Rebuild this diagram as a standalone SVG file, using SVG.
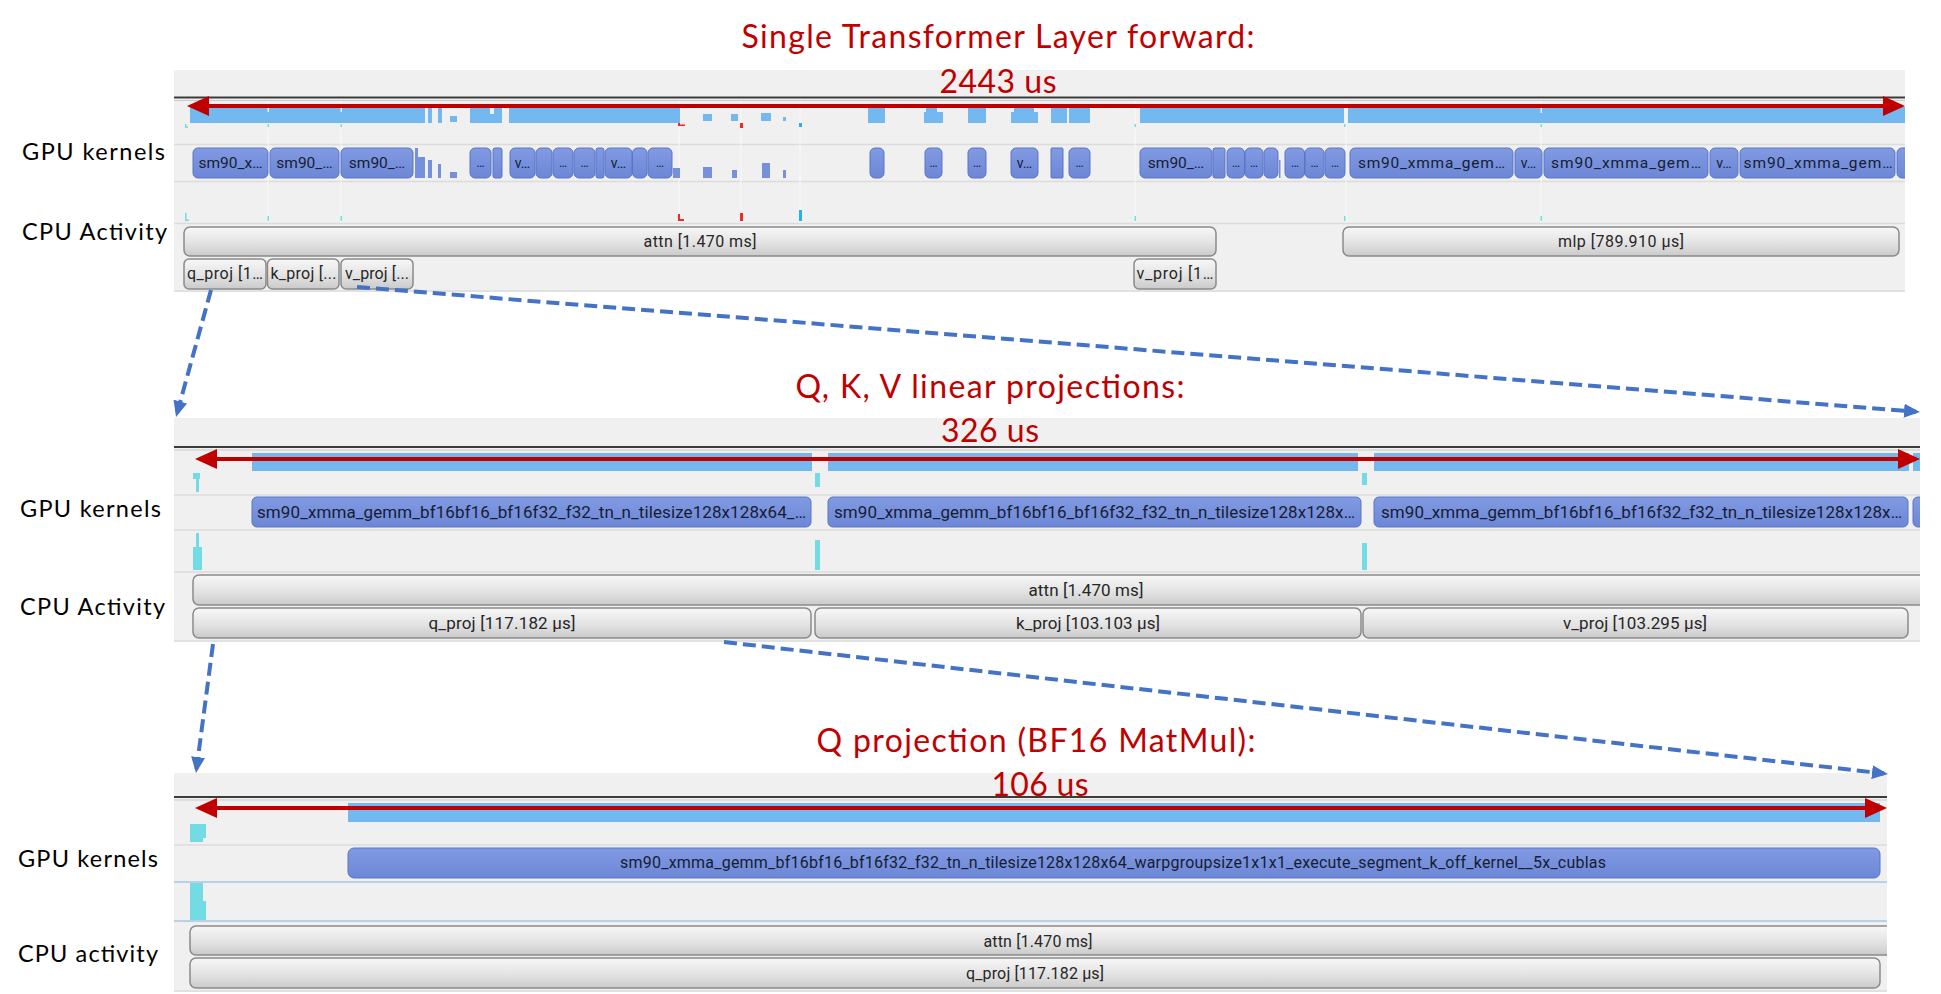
<svg xmlns="http://www.w3.org/2000/svg" width="1941" height="994" viewBox="0 0 1941 994">
<defs>
<linearGradient id="gg" x1="0" y1="0" x2="0" y2="1">
<stop offset="0" stop-color="#f7f7f7"/><stop offset="0.55" stop-color="#e3e3e3"/><stop offset="1" stop-color="#cacaca"/>
</linearGradient>
<linearGradient id="kg" x1="0" y1="0" x2="0" y2="1">
<stop offset="0" stop-color="#829ae3"/><stop offset="1" stop-color="#6c87d6"/>
</linearGradient>
<marker id="rh" viewBox="0 0 22 20" refX="18" refY="10" markerWidth="22" markerHeight="20" markerUnits="userSpaceOnUse" orient="auto-start-reverse"><path d="M0 0 L22 10 L0 20 Z" fill="#c00000"/></marker>
<marker id="bh" viewBox="0 0 16 14" refX="12" refY="7" markerWidth="16" markerHeight="14" markerUnits="userSpaceOnUse" orient="auto"><path d="M0 0 L16 7 L0 14 Z" fill="#4472c4"/></marker>
<clipPath id="c1"><rect x="174" y="70" width="1731" height="222"/></clipPath>
<clipPath id="c2"><rect x="174" y="418" width="1746" height="224"/></clipPath>
<clipPath id="c3"><rect x="174" y="773" width="1713" height="219"/></clipPath>
</defs>
<style>
.bg{fill:#f0f0f0}
.sep{stroke:#dcdcdc;stroke-width:1.5}
.sepb{stroke:#a6c7e2;stroke-width:1.5}
.dk{stroke:#3c3c3c;stroke-width:2}
.lt{stroke:#c9c9c9;stroke-width:1}
.fl{stroke:#f9f9f9;stroke-width:1}
.bl{fill:#73b9ef}
.cy{fill:#73dbe4}
.rd{fill:#ee2a2a}
.sb{fill:#1fb3f0}
.wt{fill:#f0f0f0}
.k{fill:url(#kg);stroke:#5b75c6;stroke-width:1}
.kb{fill:#7690dc}
.g{fill:url(#gg);stroke:#8a8a8a;stroke-width:1.5}
.kt{font-family:Roboto,"Liberation Sans",sans-serif;font-size:15.5px;fill:#161d33;text-anchor:middle}
.ks{font-family:Roboto,"Liberation Sans",sans-serif;font-size:12px;fill:#161d33;text-anchor:middle}
.gt{font-family:Roboto,"Liberation Sans",sans-serif;font-size:16px;fill:#262626;text-anchor:middle}
.lab{font-family:Lato,"Open Sans",sans-serif;font-size:23.5px;fill:#000}
.tt{font-family:Lato,"Open Sans",sans-serif;font-size:32px;fill:#c00000;text-anchor:middle}
.span{stroke:#c00000;stroke-width:4;fill:none;marker-start:url(#rh);marker-end:url(#rh)}
.dash{stroke:#4472c4;stroke-width:4;stroke-dasharray:13 6;fill:none;marker-end:url(#bh)}
</style>
<rect width="1941" height="994" fill="#ffffff"/>

<!-- Panel 1 -->
<g id="panel1" clip-path="url(#c1)">
<rect class="bg" x="174" y="70" width="1731" height="222"/>
<line class="dk" x1="174" y1="97.5" x2="1905" y2="97.5"/>
<line class="lt" x1="174" y1="100.5" x2="1905" y2="100.5"/>
<line class="sep" x1="174" y1="144.5" x2="1905" y2="144.5"/>
<line class="sep" x1="174" y1="181.5" x2="1905" y2="181.5"/>
<line class="sep" x1="174" y1="223.5" x2="1905" y2="223.5"/>
<line class="sep" x1="174" y1="291" x2="1905" y2="291"/>
<g class="fl">
<line x1="268" y1="101" x2="268" y2="223"/><line x1="341" y1="101" x2="341" y2="223"/>
<line x1="679" y1="101" x2="679" y2="223"/><line x1="741" y1="101" x2="741" y2="223"/>
<line x1="800" y1="101" x2="800" y2="223"/><line x1="1135" y1="101" x2="1135" y2="223"/>
<line x1="1346" y1="101" x2="1346" y2="223"/><line x1="1541" y1="101" x2="1541" y2="223"/>
</g>
<!-- GPU activity row -->
<g class="bl">
<rect x="190" y="107" width="235" height="16"/>
<rect x="428" y="107" width="4" height="16"/>
<rect x="438" y="107" width="4" height="16"/>
<rect x="450" y="116" width="7" height="6"/>
<rect x="470" y="107" width="20" height="16"/>
<rect x="490" y="114" width="4" height="9"/>
<rect x="494" y="107" width="8" height="16"/>
<rect x="509" y="107" width="171" height="16"/>
<rect x="703" y="114" width="9" height="7"/>
<rect x="731" y="114" width="7" height="7"/>
<rect x="761" y="113" width="10" height="8"/>
<rect x="783" y="117" width="3" height="4"/>
<rect x="868" y="107" width="17" height="16"/>
<rect x="926" y="107" width="11" height="6"/>
<rect x="924" y="112" width="19" height="11"/>
<rect x="968" y="107" width="18" height="16"/>
<rect x="1014" y="107" width="20" height="6"/>
<rect x="1011" y="112" width="27" height="11"/>
<rect x="1051" y="107" width="16" height="16"/>
<rect x="1069" y="107" width="21" height="16"/>
<rect x="1140" y="107" width="204" height="16"/>
<rect x="1348" y="107" width="557" height="16"/>
</g>
<g class="wt">
<rect x="267.5" y="107" width="1.5" height="5"/><rect x="340.5" y="107" width="1.5" height="5"/><rect x="1540.5" y="107" width="1.5" height="6"/>
</g>
<g class="cy">
<rect x="185" y="124" width="1.5" height="4"/><rect x="185" y="126.5" width="3" height="1.5"/>
<rect x="267.5" y="124" width="1.5" height="3"/><rect x="340.5" y="124" width="1.5" height="3"/>
<rect x="1134.5" y="124" width="1.5" height="3"/><rect x="1344" y="124" width="1.5" height="3"/><rect x="1540.5" y="124" width="1.5" height="3"/>
</g>
<rect class="rd" x="678" y="123" width="2" height="3"/><rect class="rd" x="678" y="124.5" width="7" height="1.5"/>
<rect class="rd" x="740" y="123" width="3" height="5"/>
<rect class="sb" x="799" y="123" width="3" height="4"/>
<!-- kernel row -->
<g class="k">
<rect x="193" y="148" width="75" height="30" rx="5"/>
<rect x="270" y="148" width="69" height="30" rx="5"/>
<rect x="341" y="148" width="72" height="30" rx="5"/>
<rect x="470" y="148" width="21" height="30" rx="5"/>
<rect x="493" y="148" width="9" height="30" rx="2"/>
<rect x="510" y="148" width="25" height="30" rx="5"/>
<rect x="536" y="148" width="16" height="30" rx="5"/>
<rect x="553" y="148" width="20" height="30" rx="5"/>
<rect x="574" y="148" width="21" height="30" rx="5"/>
<rect x="596" y="148" width="8" height="30" rx="2"/>
<rect x="605" y="148" width="27" height="30" rx="5"/>
<rect x="632.5" y="148" width="14.5" height="30" rx="5"/>
<rect x="648" y="148" width="24" height="30" rx="5"/>
<rect x="870" y="148" width="14" height="30" rx="5"/>
<rect x="925" y="148" width="17" height="30" rx="5"/>
<rect x="968" y="148" width="18" height="30" rx="5"/>
<rect x="1011" y="148" width="27" height="30" rx="5"/>
<rect x="1051" y="148" width="12" height="30" rx="1"/>
<rect x="1069" y="148" width="21" height="30" rx="5"/>
<rect x="1140" y="148" width="72" height="30" rx="5"/>
<rect x="1213" y="148" width="12" height="30" rx="2"/>
<rect x="1227" y="148" width="17.5" height="30" rx="5"/>
<rect x="1245" y="148" width="18" height="30" rx="5"/>
<rect x="1264" y="148" width="14" height="30" rx="5"/>
<rect x="1285" y="148" width="19.5" height="30" rx="5"/>
<rect x="1305" y="148" width="19" height="30" rx="5"/>
<rect x="1325" y="148" width="20" height="30" rx="5"/>
<rect x="1350" y="148" width="163" height="30" rx="5"/>
<rect x="1515" y="148" width="27" height="30" rx="5"/>
<rect x="1544" y="148" width="164" height="30" rx="5"/>
<rect x="1710" y="148" width="28" height="30" rx="5"/>
<rect x="1740" y="148" width="155" height="30" rx="5"/>
<rect x="1897" y="148" width="15" height="30" rx="5"/>
</g>
<g class="kb">
<rect x="415" y="148" width="3" height="30"/>
<rect x="418" y="157" width="7" height="21"/>
<rect x="428" y="160" width="4" height="18"/>
<rect x="438" y="164" width="3" height="14"/>
<rect x="450" y="172" width="7" height="6"/>
<rect x="673" y="168" width="7" height="10"/>
<rect x="703" y="167" width="9" height="11"/>
<rect x="732" y="170" width="5" height="8"/>
<rect x="762" y="163" width="8" height="15"/>
<rect x="783" y="170" width="3" height="8"/>
<rect x="1279" y="160" width="1.5" height="18"/>
</g>
<g class="kt">
<text x="230.5" y="168">sm90_x…</text>
<text x="304.5" y="168">sm90_…</text>
<text x="377" y="168">sm90_…</text>
<text x="1176" y="168">sm90_…</text>
<text x="1431.5" y="168" textLength="147">sm90_xmma_gem…</text>
<text x="1626" y="168" textLength="150">sm90_xmma_gem…</text>
<text x="1818" y="168" textLength="149">sm90_xmma_gem…</text>
<text x="522.5" y="168" font-size="14">v…</text>
<text x="618.5" y="168" font-size="14">v…</text>
<text x="1024.5" y="168" font-size="14">v…</text>
<text x="1528.5" y="168" font-size="14">v…</text>
<text x="1724" y="168" font-size="14">v…</text>
</g>
<g class="ks">
<text x="480.5" y="167">…</text><text x="563" y="167">…</text><text x="584.5" y="167">…</text>
<text x="660" y="167">…</text><text x="933.5" y="167">…</text><text x="977" y="167">…</text>
<text x="1079.5" y="167">…</text><text x="1236" y="167">…</text><text x="1254" y="167">…</text>
<text x="1295" y="167">…</text><text x="1314.5" y="167">…</text><text x="1335" y="167">…</text>
</g>
<!-- CPU ticks -->
<g class="cy">
<rect x="185" y="213" width="1.5" height="8"/><rect x="185" y="219.5" width="4" height="1.5"/>
<rect x="267.5" y="216" width="1.5" height="5"/><rect x="340.5" y="216" width="1.5" height="5"/>
<rect x="1134.5" y="216" width="1.5" height="5"/><rect x="1344" y="216" width="1.5" height="5"/><rect x="1540.5" y="216" width="1.5" height="5"/>
</g>
<rect class="rd" x="678" y="214" width="2" height="7"/><rect class="rd" x="678" y="219" width="6" height="2"/>
<rect class="rd" x="740" y="213" width="3" height="8"/>
<rect class="sb" x="799" y="210" width="3" height="11"/>
<!-- CPU bars -->
<rect class="g" x="184" y="227" width="1032" height="29" rx="6"/>
<rect class="g" x="1343" y="227" width="556" height="29" rx="6"/>
<rect class="g" x="184" y="259" width="82" height="30" rx="5"/>
<rect class="g" x="267.5" y="259" width="71.5" height="30" rx="5"/>
<rect class="g" x="341" y="259" width="72" height="30" rx="5"/>
<rect class="g" x="1134" y="259" width="82" height="30" rx="5"/>
<g class="gt">
<text x="700" y="247" textLength="113">attn [1.470 ms]</text>
<text x="1621" y="247" textLength="126">mlp [789.910 μs]</text>
<text x="225" y="279" textLength="76">q_proj [1…</text>
<text x="303.5" y="279" textLength="66">k_proj [...</text>
<text x="377" y="279" textLength="64">v_proj [...</text>
<text x="1175" y="279" textLength="77">v_proj [1…</text>
</g>
</g>

<!-- Panel 2 -->
<g id="panel2" clip-path="url(#c2)">
<rect class="bg" x="174" y="418" width="1746" height="224"/>
<line class="dk" x1="174" y1="447" x2="1920" y2="447"/>
<line class="lt" x1="174" y1="450" x2="1920" y2="450"/>
<line class="sep" x1="174" y1="495" x2="1920" y2="495"/>
<line class="sep" x1="174" y1="530" x2="1920" y2="530"/>
<line class="sep" x1="174" y1="572" x2="1920" y2="572"/>
<line class="sep" x1="174" y1="641" x2="1920" y2="641"/>
<g class="bl">
<rect x="252" y="453" width="560" height="18"/>
<rect x="828" y="453" width="530" height="18"/>
<rect x="1374" y="453" width="535" height="18"/>
<rect x="1913" y="453" width="10" height="18"/>
</g>
<g class="cy">
<rect x="193" y="473" width="7" height="6"/><rect x="196" y="479" width="3" height="13"/>
<rect x="815" y="473" width="5" height="14"/>
<rect x="1362" y="473" width="5" height="12"/>
<rect x="196" y="533" width="3" height="14"/><rect x="193" y="547" width="9" height="23"/>
<rect x="815" y="540" width="5" height="30"/>
<rect x="1362" y="543" width="5" height="27"/>
</g>
<g class="k">
<rect x="252" y="497" width="559" height="30" rx="5"/>
<rect x="828" y="497" width="533" height="30" rx="5"/>
<rect x="1374" y="497" width="534" height="30" rx="5"/>
<rect x="1913" y="497" width="20" height="30" rx="5"/>
</g>
<g class="kt" style="font-size:17px">
<text x="531.5" y="518" textLength="549">sm90_xmma_gemm_bf16bf16_bf16f32_f32_tn_n_tilesize128x128x64_…</text>
<text x="1094.5" y="518" textLength="521">sm90_xmma_gemm_bf16bf16_bf16f32_f32_tn_n_tilesize128x128x…</text>
<text x="1641.5" y="518" textLength="521">sm90_xmma_gemm_bf16bf16_bf16f32_f32_tn_n_tilesize128x128x…</text>
</g>
<rect class="g" x="193" y="575" width="1760" height="30" rx="6"/>
<rect class="g" x="193" y="608" width="618" height="30" rx="6"/>
<rect class="g" x="815" y="608" width="546" height="30" rx="6"/>
<rect class="g" x="1363" y="608" width="545" height="30" rx="6"/>
<g class="gt" style="font-size:17px">
<text x="1086" y="596" textLength="115">attn [1.470 ms]</text>
<text x="502" y="629" textLength="147">q_proj [117.182 μs]</text>
<text x="1088" y="629" textLength="144">k_proj [103.103 μs]</text>
<text x="1635" y="629" textLength="144">v_proj [103.295 μs]</text>
</g>
</g>

<!-- Panel 3 -->
<g id="panel3" clip-path="url(#c3)">
<rect class="bg" x="174" y="773" width="1713" height="219"/>
<line class="dk" x1="174" y1="797" x2="1887" y2="797"/>
<line class="lt" x1="174" y1="800" x2="1887" y2="800"/>
<line class="sep" x1="174" y1="845" x2="1887" y2="845"/>
<line class="sepb" x1="174" y1="882" x2="1887" y2="882"/>
<line class="sepb" x1="174" y1="921" x2="1887" y2="921"/>
<line class="sep" x1="174" y1="991" x2="1887" y2="991"/>
<rect class="bl" x="348" y="803" width="1532" height="19"/>
<g class="cy">
<rect x="190" y="824" width="16" height="14"/><rect x="190" y="838" width="13" height="4"/>
<rect x="190" y="883" width="13" height="18"/><rect x="190" y="901" width="16" height="19"/>
</g>
<rect class="k" x="348" y="848" width="1532" height="30" rx="6"/>
<text class="kt" x="1113" y="868" style="font-size:16px" textLength="986">sm90_xmma_gemm_bf16bf16_bf16f32_f32_tn_n_tilesize128x128x64_warpgroupsize1x1x1_execute_segment_k_off_kernel__5x_cublas</text>
<rect class="g" x="190" y="926" width="1730" height="29" rx="6"/>
<rect class="g" x="190" y="958" width="1690" height="30" rx="6"/>
<g class="gt">
<text x="1038" y="947" textLength="109">attn [1.470 ms]</text>
<text x="1035" y="979" textLength="138">q_proj [117.182 μs]</text>
</g>
</g>

<!-- Row labels -->
<g id="labels" class="lab">
<text x="22" y="160" textLength="143">GPU kernels</text>
<text x="22" y="240" textLength="145">CPU Activity</text>
<text x="20" y="517" textLength="141">GPU kernels</text>
<text x="20" y="615" textLength="145">CPU Activity</text>
<text x="18" y="867" textLength="140">GPU kernels</text>
<text x="18" y="962" textLength="140">CPU activity</text>
</g>

<!-- Span arrows -->
<g id="spans">
<line class="span" x1="191" y1="106" x2="1901" y2="106"/>
<line class="span" x1="199" y1="459" x2="1916" y2="459"/>
<line class="span" x1="199" y1="808" x2="1883" y2="808"/>
</g>

<!-- Titles -->
<g id="title1" class="tt">
<text x="998" y="48" textLength="513">Single Transformer Layer forward:</text>
<text x="998" y="93" textLength="117">2443 us</text>
</g>
<g id="title2" class="tt">
<text x="990" y="398" textLength="389">Q, K, V linear projections:</text>
<text x="990" y="442" textLength="98">326 us</text>
</g>
<g id="title3" class="tt">
<text x="1036" y="752" textLength="439">Q projection (BF16 MatMul):</text>
<text x="1040" y="796" textLength="97">106 us</text>
</g>

<!-- Connectors -->
<g id="connectors">
<path class="dash" d="M211 290 L177.1 413.1"/>
<path class="dash" d="M357 287 L1916 411.7"/>
<path class="dash" d="M213 644 L196.5 769"/>
<path class="dash" d="M724 642 L1884 773.5"/>
</g>
</svg>
